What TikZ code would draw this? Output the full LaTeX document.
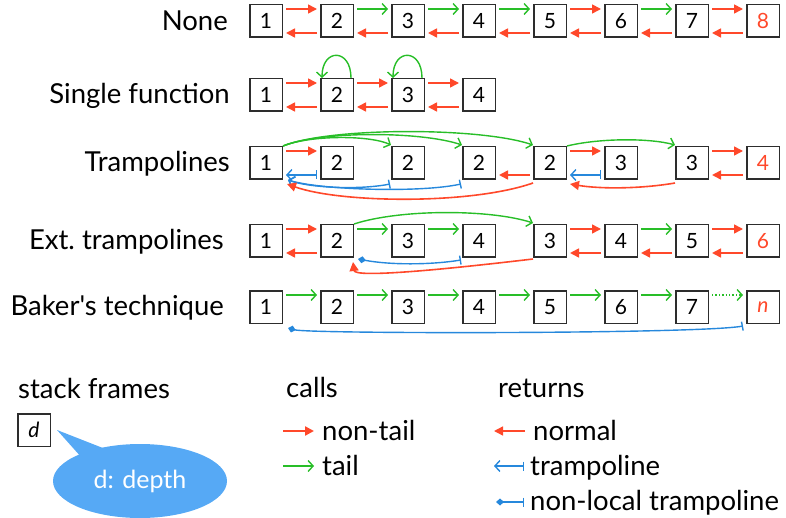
\documentclass[tikz,border=0pt]{standalone}
\usepackage{fontspec}
\setmainfont{Lato}[Ligatures=TeXOff]
\usetikzlibrary{arrows.meta,calc,shapes.geometric}

\definecolor{cred}{RGB}{255,72,42}
\definecolor{cgreen}{RGB}{40,190,40}
\definecolor{cblue}{RGB}{38,136,220}
\definecolor{cbubble}{RGB}{86,169,245}
\definecolor{cframe}{RGB}{45,45,45}

% straight call / return between neighbouring frames
\newcommand\fwdarr[3]{\draw[#1] ($(#2.east)+(3,-12)$) -- ($(#3.west)+(-3,-12)$);}
\newcommand\bwdarr[3]{\draw[#1] ($(#2.west)+(-3,12)$) -- ($(#3.east)+(3,12)$);}

\begin{document}
\begin{tikzpicture}[x=1pt,y=-1pt,
  frame/.style={draw=cframe,line width=1.5pt,minimum size=32.5pt,inner sep=0pt,
    font=\fontsize{21}{21}\selectfont},
  lab/.style={inner sep=0pt,font=\fontsize{27.5}{27.5}\selectfont},
  call/.style={draw=cred,line width=1.6pt,-{Triangle[length=9pt,width=9pt]}},
  ret/.style={draw=cred,line width=1.6pt,-{Triangle[length=9pt,width=9pt]}},
  tail/.style={draw=cgreen,line width=1.4pt,-{Straight Barb[length=5pt,width=11pt]}},
  tramp/.style={draw=cblue,line width=1.4pt,{Bar[width=9pt]}-{Straight Barb[length=5pt,width=11pt]}},
  nonlocal/.style={draw=cblue,line width=1.4pt,{Bar[width=9pt]}-{Diamond[length=8pt,width=7pt]}}]
\useasboundingbox (0,0) rectangle (786,518);

% row labels
\node[lab,anchor=base east] (l1) at (228,31) {None};
\node[lab,anchor=base east] (l2) at (230,104) {Single function};
\node[lab,anchor=base east] (l3) at (230,172) {Trampolines};
\node[lab,anchor=base east] (l4) at (224,250) {Ext.\ trampolines};
\node[lab,anchor=base east] (l5) at (224,316) {Baker's technique};

% ---- None
\foreach \t [count=\i] in {1,...,7}
  \node[frame] (a\i) at (195+71*\i,21) {\t};
\node[frame,text=cred] (a8) at (763,21) {8};
\fwdarr{call}{a1}{a2}
\fwdarr{tail}{a2}{a3}
\fwdarr{tail}{a3}{a4}
\fwdarr{tail}{a4}{a5}
\fwdarr{call}{a5}{a6}
\fwdarr{tail}{a6}{a7}
\fwdarr{call}{a7}{a8}
\foreach \i [evaluate=\i as \j using int(\i-1)] in {2,...,8}
  {\bwdarr{ret}{a\i}{a\j}}

% ---- Single function
\foreach \i in {1,...,4}
  \node[frame] (b\i) at (195+71*\i,95) {\i};
\foreach \i [evaluate=\i as \j using int(\i+1)] in {1,2,3}
  {\fwdarr{call}{b\i}{b\j}\bwdarr{ret}{b\j}{b\i}}
\foreach \i in {2,3}
  \draw[tail] ($(b\i.north east)+(-3,0)$) .. controls +(0,-30) and +(0,-30) .. ($(b\i.north west)+(2,0)$);

% ---- Trampolines
\foreach \t [count=\i] in {1,2,2,2,2,3,3}
  \node[frame] (c\i) at (195+71*\i,163) {\t};
\node[frame,text=cred] (c8) at (763,163) {4};
\fwdarr{call}{c1}{c2}
\fwdarr{call}{c5}{c6}
\fwdarr{call}{c7}{c8}
\bwdarr{ret}{c8}{c7}
\bwdarr{ret}{c5}{c4}
\bwdarr{tramp}{c2}{c1}
\bwdarr{tramp}{c6}{c5}
\draw[tail] (c1.north east) .. controls (310,135) and (370,135) .. ($(c3.north west)+(0,-1)$);
\draw[tail] (c1.north east) .. controls (320,131) and (420,131) .. ($(c4.north west)+(0,-1)$);
\draw[tail] (c1.north east) .. controls (330,127) and (480,127) .. ($(c5.north west)+(0,-1)$);
\draw[tail] (c5.north east) .. controls (600,138) and (650,138) .. ($(c7.north west)+(0,-1)$);
\draw[tramp] ($(c3.south west)+(-1,4)$) .. controls (360,190) and (310,188) .. ($(c1.south east)+(5,0)$);
\draw[tramp] ($(c4.south west)+(-1,4)$) .. controls (420,193) and (320,190) .. ($(c1.south east)+(5,0)$);
\draw[ret] ($(c5.south west)+(0,3)$) .. controls (470,205) and (340,203) .. ($(c1.south east)+(4,4)$);
\draw[ret] ($(c7.south west)+(0,3)$) .. controls (640,189) and (600,189) .. ($(c5.south east)+(3,4)$);

% ---- Ext. trampolines
\foreach \t [count=\i] in {1,2,3,4,3,4,5}
  \node[frame] (d\i) at (195+71*\i,241) {\t};
\node[frame,text=cred] (d8) at (763,241) {6};
\fwdarr{call}{d1}{d2}
\bwdarr{ret}{d2}{d1}
\fwdarr{tail}{d2}{d3}
\fwdarr{tail}{d3}{d4}
\fwdarr{call}{d5}{d6}
\fwdarr{tail}{d6}{d7}
\fwdarr{call}{d7}{d8}
\bwdarr{ret}{d6}{d5}
\bwdarr{ret}{d7}{d6}
\bwdarr{ret}{d8}{d7}
\draw[tail] (d2.north east) .. controls (400,209) and (490,209) .. ($(d5.north west)+(0,-1)$);
\draw[nonlocal] ($(d4.south west)+(-1,2)$) .. controls (430,265) and (390,265) .. ($(d2.south east)+(4,1)$);
\draw[ret] ($(d5.south west)+(0,1)$) .. controls (440,270) and (355,278) .. ($(d2.south east)+(-1,4)$);

% ---- Baker's technique
\foreach \i in {1,...,7}
  \node[frame] (e\i) at (195+71*\i,307) {\i};
\node[frame,text=cred] (e8) at (763,307) {\itshape n};
\foreach \i [evaluate=\i as \j using int(\i+1)] in {1,...,6}
  {\fwdarr{tail}{e\i}{e\j}}
\draw[tail,dotted] ($(e7.east)+(3,-12)$) -- ($(e8.west)+(-3,-12)$);
\draw[nonlocal] ($(e8.south west)+(-3,2)$) .. controls (700,334) and (310,334) .. ($(e1.south east)+(5,4)$);

% ---- legend
\node[lab,anchor=base west] (sf) at (18,398) {stack frames};
\node[frame] (dd) at (34,430) {\itshape d};
\node[ellipse,fill=cbubble,minimum width=174pt,minimum height=74pt,inner sep=0pt,
  text=white,font=\fontsize{25}{25}\selectfont] (bub) at (140,481) {d: depth};
\fill[cbubble] ($(dd.east)+(6,0)$) -- (82,458) -- (108,450) -- cycle;

\node[lab,anchor=base west] (calls) at (286,397) {calls};
\node[lab,anchor=base west] (nt) at (322,440) {non-tail};
\node[lab,anchor=base west] (tl) at (322,475) {tail};
\coordinate (ca1) at (283,431); \coordinate (ca2) at (314,431);
\coordinate (ta1) at (283,466); \coordinate (ta2) at (314,466);
\draw[call,line width=2.4pt] (ca1) -- (ca2);
\draw[tail] (ta1) -- (ta2);

\node[lab,anchor=base west] (rets) at (498,397) {returns};
\node[lab,anchor=base west] (nm) at (533,440) {normal};
\node[lab,anchor=base west] (tr) at (530,475) {trampoline};
\node[lab,anchor=base west] (nl) at (530,510) {non-local trampoline};
\coordinate (ra1) at (525,431); \coordinate (ra2) at (494,431);
\coordinate (rb1) at (524,466); \coordinate (rb2) at (494,466);
\coordinate (rc1) at (524,502); \coordinate (rc2) at (496,502);
\draw[ret,line width=1.4pt] (ra1) -- (ra2);
\draw[tramp] (rb1) -- (rb2);
\draw[nonlocal] (rc1) -- (rc2);
\end{tikzpicture}
\end{document}
